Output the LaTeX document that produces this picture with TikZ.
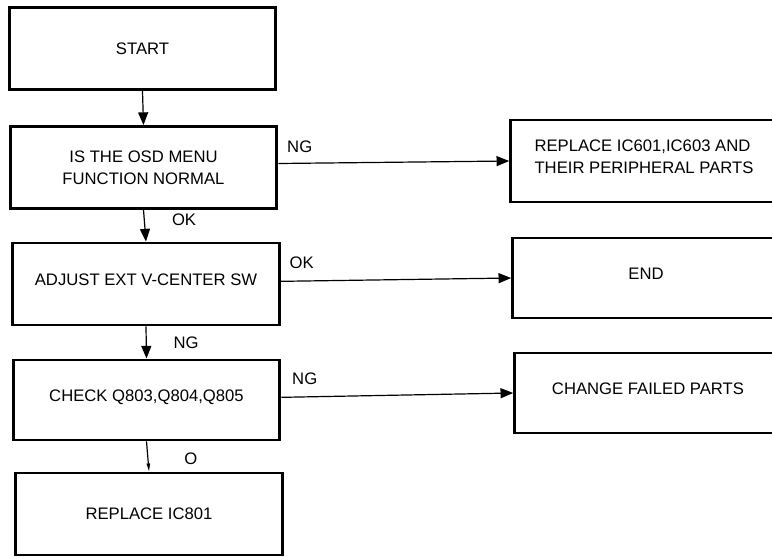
\documentclass[tikz,border=0pt]{standalone}
\usepackage{fontspec}
\setmainfont{Liberation Sans}
\usetikzlibrary{arrows.meta}
\newcommand{\chartfont}{\fontsize{12.5}{16.5}\selectfont}
\tikzset{
  stepbox/.style={draw, line width=2.2pt, minimum width=200pt, minimum height=61.5pt,
    inner sep=0pt, align=center, font=\chartfont},
  raised/.style={text depth=6.5pt},
  flow/.style={line width=0.9pt, -{Triangle[length=9.5pt, width=7.5pt]}},
  lbl/.style={font=\chartfont, inner sep=0pt}
}

\begin{document}
\begin{tikzpicture}[x=0.75pt, y=-0.75pt]

  % Frame
  \useasboundingbox (0,0) rectangle (772,557);
  \clip (0,0) rectangle (772,557);

  % Main column
  \node[stepbox] (start) at (142.5, 48.5) {START};
  \node[stepbox] (osd) at (143.5, 167.5) {IS THE OSD MENU\\FUNCTION NORMAL};
  \node[stepbox, raised] (adjust) at (146, 284) {ADJUST EXT V-CENTER SW};
  \node[stepbox, raised, minimum height=60pt] (check) at (146.5, 400) {CHECK Q803,Q804,Q805};
  \node[stepbox] (ic801) at (149, 514) {REPLACE IC801};

  % Right column
  \node[stepbox, raised, align=left] (replace) at (644, 161) {REPLACE IC601,IC603 AND\\THEIR PERIPHERAL PARTS};
  \node[stepbox, raised, minimum height=60pt] (endbox) at (646, 278) {END};
  \node[stepbox, raised, minimum height=60pt] (change) at (648, 393) {CHANGE FAILED PARTS};

  % Downward links
  \draw[flow] (start.south) -- (osd.north);
  \draw[flow] (osd.south) -- node[lbl, anchor=west, xshift=20pt, yshift=4.5pt] {OK} (adjust.north);
  \draw[flow] (adjust.south) -- node[lbl, anchor=west, xshift=20pt] {NG} (check.north);
  \draw[line width=0.9pt, -{Triangle[length=6pt, width=2.5pt]}] (check.south) -- node[lbl, anchor=west, xshift=27pt, yshift=-1.5pt] {O} (ic801.north);

  % Side links
  \draw[flow] ([yshift=3pt]osd.east) -- (replace.west);
  \node[lbl, anchor=south west, xshift=6.5pt, yshift=11pt] (ngone) at (osd.east) {NG};
  \draw[flow] ([yshift=2pt]adjust.east) -- (endbox.west);
  \node[lbl, anchor=south west, xshift=6.5pt, yshift=11pt] (okside) at (adjust.east) {OK};
  \draw[flow] ([yshift=2pt]check.east) -- (change.west);
  \node[lbl, anchor=south west, xshift=8pt, yshift=11pt] (ngtwo) at (check.east) {NG};

\end{tikzpicture}
\end{document}
